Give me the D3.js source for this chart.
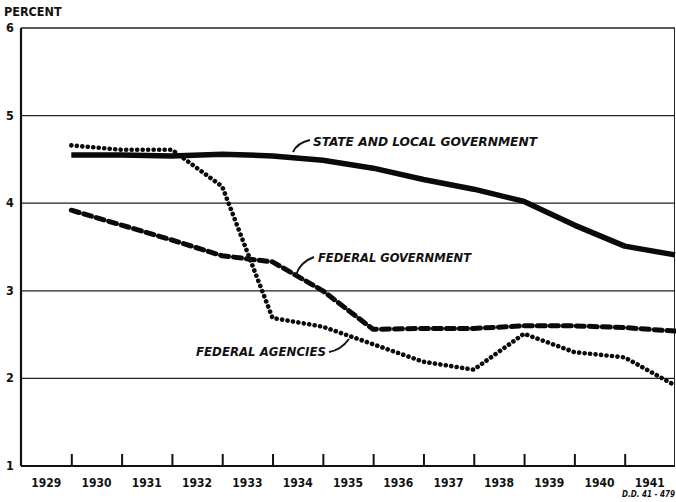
<!DOCTYPE html>
<html lang="en">
<head>
<meta charset="utf-8">
<script src="https://cdn.jsdelivr.net/npm/d3@7"></script>
<style>
  body { margin: 0; background: #fff; }
  text { font-family: "DejaVu Sans Condensed", "DejaVu Sans", sans-serif; font-weight: bold; fill: #111; }
</style>
</head>
<body>
<script>
// year-end values, percent
const years = [1929, 1930, 1931, 1932, 1933, 1934, 1935, 1936, 1937, 1938, 1939, 1940, 1941];
const stateLocal = [4.55, 4.55, 4.54, 4.56, 4.54, 4.49, 4.40, 4.27, 4.16, 4.02, 3.75, 3.51, 3.41];
const federalGov = [3.92, 3.75, 3.58, 3.40, 3.33, 3.00, 2.56, 2.57, 2.57, 2.60, 2.60, 2.58, 2.54];
const federalAgencies = [4.66, 4.61, 4.61, 4.19, 2.69, 2.59, 2.39, 2.19, 2.10, 2.51, 2.30, 2.24, 1.92];
const yTicks = [1, 2, 3, 4, 5, 6];

const width = 676, height = 502;
const margin = {top: 28, right: 1, bottom: 36, left: 21};

const svg = d3.select("body").append("svg")
  .attr("width", width)
  .attr("height", height);

const x = d3.scaleLinear()
  .domain([1929, 1942])
  .range([margin.left, width - margin.right]);

const y = d3.scaleLinear()
  .domain([1, 6])
  .range([height - margin.bottom, margin.top]);

// grid lines
svg.append("g")
  .selectAll("line")
  .data(yTicks.filter(d => d > 1))
  .join("line")
  .attr("x1", x(1929)).attr("x2", x(1942))
  .attr("y1", d => y(d)).attr("y2", d => y(d))
  .attr("stroke", "#222")
  .attr("stroke-width", d => d === 6 ? 1.6 : 1.2);

// right border
svg.append("line")
  .attr("x1", x(1942) - 0.5).attr("x2", x(1942) - 0.5)
  .attr("y1", y(6)).attr("y2", y(1))
  .attr("stroke", "#222").attr("stroke-width", 1);

// left axis
svg.append("line")
  .attr("x1", x(1929)).attr("x2", x(1929))
  .attr("y1", y(6)).attr("y2", y(1))
  .attr("stroke", "#111").attr("stroke-width", 2.2);

// bottom axis with upward ticks between years
const xAxis = d3.axisTop(x)
  .tickValues(d3.range(1930, 1942))
  .tickSize(12)
  .tickFormat("");
const gx = svg.append("g")
  .attr("transform", `translate(0,${y(1)})`)
  .call(xAxis);
gx.select(".domain").remove();
gx.selectAll(".tick line").attr("stroke", "#111").attr("stroke-width", 2);
svg.append("line")
  .attr("x1", x(1929)).attr("x2", x(1942))
  .attr("y1", y(1)).attr("y2", y(1))
  .attr("stroke", "#111").attr("stroke-width", 2.2);

// year labels centred in each band
svg.append("g")
  .selectAll("text")
  .data(years)
  .join("text")
  .attr("x", d => x(d + 0.5))
  .attr("y", y(1) + 21)
  .attr("text-anchor", "middle")
  .attr("font-size", 12)
  .text(d => d);

// y labels
svg.append("g")
  .selectAll("text")
  .data(yTicks)
  .join("text")
  .attr("x", 10)
  .attr("y", d => y(d) + 4)
  .attr("text-anchor", "middle")
  .attr("font-size", 12.5)
  .text(d => d);

svg.append("text")
  .attr("x", 4).attr("y", 16)
  .attr("font-size", 12.5)
  .text("PERCENT");

svg.append("text")
  .attr("x", width - 1).attr("y", 497)
  .attr("text-anchor", "end")
  .attr("font-size", 8)
  .attr("font-style", "italic")
  .text("D.D. 41 - 479");

// lines
const line = d3.line()
  .x((d, i) => x(years[i] + 1))
  .y(d => y(d));

svg.append("path")
  .datum(stateLocal)
  .attr("d", line)
  .attr("fill", "none")
  .attr("stroke", "#0a0a0a")
  .attr("stroke-width", 5.5)
  .attr("stroke-linejoin", "round");

svg.append("path")
  .datum(federalGov)
  .attr("d", line)
  .attr("fill", "none")
  .attr("stroke", "#0a0a0a")
  .attr("stroke-width", 5)
  .attr("stroke-dasharray", "8 5")
  .attr("stroke-linecap", "round")
  .attr("stroke-linejoin", "round");

svg.append("path")
  .datum(federalAgencies)
  .attr("d", line)
  .attr("fill", "none")
  .attr("stroke", "#0a0a0a")
  .attr("stroke-width", 4.6)
  .attr("stroke-dasharray", "0.1 5.4")
  .attr("stroke-linecap", "round")
  .attr("stroke-linejoin", "round");

// annotations with curved leaders
const labels = [
  {text: "STATE AND LOCAL GOVERNMENT", x: 313, y: 146, len: 224, leader: "M293,152 Q297,143 310,140"},
  {text: "FEDERAL GOVERNMENT", x: 318, y: 262, len: 153, leader: "M296,275 Q300,262 314,257"},
  {text: "FEDERAL AGENCIES", x: 196, y: 356, len: 130, leader: "M329,352 Q341,350 349,339"}
];

labels.forEach(l => {
  svg.append("text")
    .attr("x", l.x).attr("y", l.y)
    .attr("font-size", 12.5)
    .attr("font-style", "italic")
    .attr("textLength", l.len)
    .attr("lengthAdjust", "spacingAndGlyphs")
    .text(l.text);
  svg.append("path")
    .attr("d", l.leader)
    .attr("fill", "none")
    .attr("stroke", "#111")
    .attr("stroke-width", 2);
});
</script>
</body>
</html>
